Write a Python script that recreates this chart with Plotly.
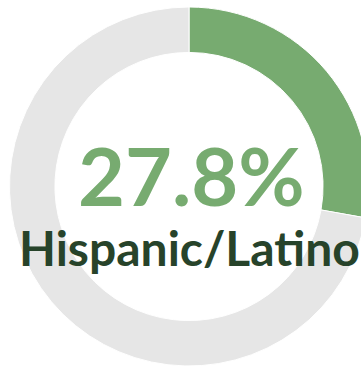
import plotly.graph_objects as go

labels = ["Hispanic/Latino", "Other"]
values = [27.8, 72.2]
colors = ["#77ab70", "#e6e6e6"]
center_value = "27.8%"
center_label = "Hispanic/Latino"

W, H = 378, 368
fig = go.Figure(go.Pie(
    labels=labels, values=values, hole=0.747, sort=False, direction="clockwise",
    rotation=0, marker=dict(colors=colors, line=dict(color="white", width=1)),
    textinfo="none", hoverinfo="none", showlegend=False,
    domain=dict(x=[0, 1], y=[2 / H, 361 / H]),
))
fig.add_annotation(text=f"<b>{center_value}</b>", x=191 / W, y=1 - 174 / H, xref="paper", yref="paper",
                   showarrow=False, xanchor="center", yanchor="middle",
                   font=dict(family="Lato", size=81, color="#77ab70"))
fig.add_annotation(text=f"<b>{center_label}</b>", x=189 / W, y=1 - 247.5 / H, xref="paper", yref="paper",
                   showarrow=False, xanchor="center", yanchor="middle",
                   font=dict(family="Lato", size=48, color="#27432a"))
fig.update_layout(width=W, height=H, margin=dict(l=0, r=0, t=0, b=0),
                  paper_bgcolor="white", plot_bgcolor="white")
fig.write_html("out.html")
